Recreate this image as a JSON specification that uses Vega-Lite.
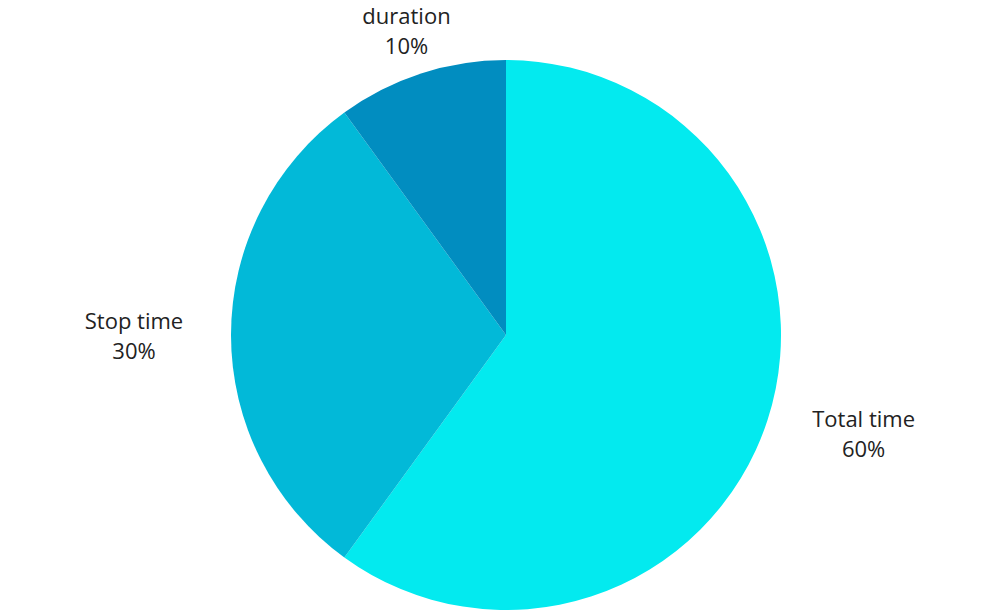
{
  "$schema": "https://vega.github.io/schema/vega-lite/v6.json",
  "autosize": {"type": "none"},
  "width": 988,
  "height": 558,
  "padding": {"left": 12, "top": 56, "right": 0, "bottom": 0},
  "background": "white",
  "config": {"view": {"stroke": null}},
  "data": {
    "values": [
      {"category": "Total time", "pct": 60, "order": 1},
      {"category": "Stop time", "pct": 30, "order": 2},
      {"category": "duration", "pct": 10, "order": 3}
    ]
  },
  "transform": [
    {"calculate": "[datum.category, datum.pct + '%']", "as": "label"}
  ],
  "encoding": {
    "theta": {"field": "pct", "type": "quantitative", "stack": true},
    "order": {"field": "order", "type": "quantitative"}
  },
  "layer": [
    {
      "mark": {"type": "arc", "outerRadius": 275},
      "encoding": {
        "color": {
          "field": "category",
          "type": "nominal",
          "scale": {"domain": ["Total time", "Stop time", "duration"], "range": ["#03EAEF", "#02B9D8", "#018DC0"]},
          "legend": null
        }
      }
    },
    {
      "mark": {"type": "text", "radius": 376, "dy": -31, "font": "Open Sans", "fontSize": 22, "color": "#222222", "align": "center", "baseline": "middle", "lineHeight": 30},
      "encoding": {"text": {"condition": {"test": "datum.category == 'Total time'", "field": "label"}, "value": ""}}
    },
    {
      "mark": {"type": "text", "radius": 372, "dy": -13, "font": "Open Sans", "fontSize": 22, "color": "#222222", "align": "center", "baseline": "middle", "lineHeight": 30},
      "encoding": {"text": {"condition": {"test": "datum.category == 'Stop time'", "field": "label"}, "value": ""}}
    },
    {
      "mark": {"type": "text", "radius": 322, "dy": -12, "font": "Open Sans", "fontSize": 22, "color": "#222222", "align": "center", "baseline": "middle", "lineHeight": 30},
      "encoding": {"text": {"condition": {"test": "datum.category == 'duration'", "field": "label"}, "value": ""}}
    }
  ]
}
